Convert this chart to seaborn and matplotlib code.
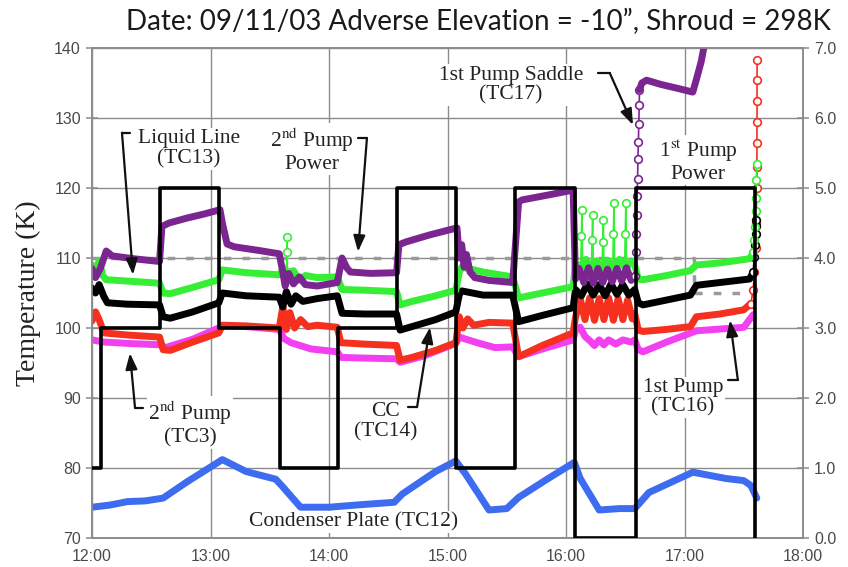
import matplotlib
matplotlib.use('Agg')
import matplotlib.pyplot as plt
import seaborn as sns

# time in decimal hours, temperatures in K
hours = [12, 13, 14, 15, 16, 17, 18]
hour_labels = ['12:00', '13:00', '14:00', '15:00', '16:00', '17:00', '18:00']
temp_ticks = [70, 80, 90, 100, 110, 120, 130, 140]
power_ticks = [0, 1, 2, 3, 4, 5, 6, 7]

# pump power (right axis), value holds from each time to the next
power_t = [12.00, 12.08, 12.575, 13.07, 13.587, 14.076, 14.574, 15.072, 15.57, 16.076, 16.59, 17.595]
power_w = [1, 3, 5, 3, 1, 3, 5, 1, 5, 0, 5, 0]

# set point (grey dashed)
setp_t = [12.00, 17.08, 17.08, 17.60]
setp_T = [110, 110, 105, 105]

# TC17 1st pump saddle (purple)
tc17_t = [12.00, 12.03, 12.07, 12.12, 12.17, 12.35, 12.57, 12.59, 12.65, 12.80, 12.95, 13.08, 13.10, 13.14,
          13.20, 13.40, 13.58, 13.61, 13.63, 13.66, 13.70, 13.75, 13.80, 13.90, 14.07, 14.11, 14.15, 14.18,
          14.35, 14.57, 14.59, 14.65, 14.85, 15.08, 15.10, 15.12, 15.14, 15.16, 15.19, 15.23, 15.35, 15.55,
          15.60, 15.63, 15.85, 16.06, 16.08, 16.11, 16.15, 16.19, 16.23, 16.27, 16.31, 16.35, 16.39, 16.43,
          16.47, 16.51, 16.55, 16.58]
tc17_T = [108.5, 107.2, 108.5, 111.0, 110.3, 109.9, 109.5, 114.5, 115.0, 115.7, 116.3, 116.9, 115.0, 112.0,
          111.6, 111.1, 110.6, 108.0, 106.0, 107.8, 106.3, 107.3, 106.2, 106.0, 106.5, 110.0, 108.6, 108.0,
          107.8, 107.9, 111.9, 112.3, 113.3, 114.3, 110.0, 111.9, 108.7, 110.5, 108.0, 107.2, 106.8, 106.5,
          118.0, 118.3, 119.0, 119.7, 107.0, 108.5, 106.5, 108.6, 106.4, 108.5, 106.5, 108.4, 106.6, 108.5,
          106.7, 108.6, 106.8, 107.5]
tc17_rise_t = [16.580, 16.588, 16.592, 16.596, 16.600, 16.604, 16.607, 16.611, 16.614, 16.618, 16.620]
tc17_rise_T = [107.5, 110.8, 113.4, 116.2, 118.9, 121.3, 124.2, 126.6, 129.1, 131.8, 134.0]
tc17_hi_t = [16.62, 16.64, 16.68, 16.80, 16.95, 17.07, 17.10, 17.14, 17.17]
tc17_hi_T = [134.0, 135.0, 135.4, 134.8, 134.2, 133.7, 135.5, 138.0, 140.6]

# TC13 liquid line (green)
tc13_t = [12.00, 12.03, 12.06, 12.09, 12.12, 12.30, 12.57, 12.60, 12.66, 12.85, 13.07, 13.10, 13.30, 13.58,
          13.62, 13.66, 13.70, 13.75, 13.80, 13.90, 14.07, 14.11, 14.30, 14.57, 14.60, 14.70, 14.90, 15.07,
          15.10, 15.12, 15.30, 15.55, 15.60, 15.80, 16.06, 16.08, 16.13, 16.17, 16.21, 16.26, 16.30, 16.35,
          16.40, 16.45, 16.50, 16.55, 16.58, 16.61, 16.65, 16.85, 17.05, 17.10, 17.30, 17.55, 17.58]
tc13_T = [109.0, 108.0, 109.6, 107.5, 106.9, 106.7, 106.4, 105.0, 104.9, 105.8, 106.9, 108.3, 107.9, 107.6,
          108.5, 107.0, 108.2, 106.8, 107.5, 107.2, 107.3, 105.5, 105.4, 105.2, 103.3, 103.8, 104.6, 105.4,
          108.0, 108.7, 108.0, 107.3, 104.3, 105.0, 105.9, 109.0, 108.3, 109.8, 108.4, 109.6, 108.5, 109.7,
          108.6, 109.8, 108.5, 109.6, 109.0, 107.0, 106.9, 107.5, 108.2, 109.0, 109.3, 109.9, 110.8]
# short green spikes, one group per spike
tc13_spk_id = [0, 0, 0, 0, 1, 1, 1, 1, 2, 2, 2, 2, 3, 3, 3, 3, 4, 4, 4, 4, 5, 5, 5, 5]
tc13_spk_t = [13.640, 13.645, 13.645, 13.650,
              16.125, 16.130, 16.135, 16.140,
              16.215, 16.220, 16.225, 16.230,
              16.305, 16.310, 16.315, 16.320,
              16.395, 16.400, 16.405, 16.410,
              16.495, 16.500, 16.505, 16.510]
tc13_spk_T = [108.0, 110.8, 113.0, 108.0,
              109.0, 113.1, 116.9, 109.0,
              109.0, 112.6, 116.1, 109.0,
              109.0, 112.3, 115.4, 109.0,
              109.0, 113.5, 117.8, 109.0,
              109.0, 113.4, 117.8, 109.0]
tc13_end_t = [17.580, 17.588, 17.594, 17.600, 17.603, 17.606, 17.610]
tc13_end_T = [110.8, 112.6, 114.4, 116.7, 118.6, 121.1, 123.5]

# TC14 CC (black)
tc14_t = [12.00, 12.03, 12.06, 12.10, 12.13, 12.30, 12.57, 12.60, 12.66, 12.85, 13.07, 13.10, 13.30, 13.58,
          13.61, 13.64, 13.68, 13.72, 13.78, 13.90, 14.07, 14.11, 14.30, 14.57, 14.60, 14.70, 14.90, 15.07,
          15.10, 15.12, 15.30, 15.55, 15.60, 15.80, 16.06, 16.08, 16.13, 16.18, 16.23, 16.28, 16.33, 16.38,
          16.43, 16.48, 16.53, 16.58, 16.61, 16.65, 16.85, 17.05, 17.10, 17.30, 17.55, 17.58]
tc14_T = [105.7, 105.0, 106.2, 104.5, 103.6, 103.4, 103.3, 101.6, 101.4, 102.3, 103.6, 105.0, 104.6, 104.4,
          103.0, 105.2, 103.4, 104.6, 103.8, 104.2, 104.6, 102.1, 102.0, 102.0, 99.7, 100.2, 101.2, 102.3,
          104.8, 105.3, 104.7, 104.7, 100.9, 101.8, 102.9, 105.5, 104.6, 106.3, 104.7, 106.2, 104.6, 106.3,
          104.8, 106.2, 104.7, 105.5, 103.6, 103.3, 104.0, 104.7, 106.1, 106.5, 107.0, 108.0]
tc14_end_t = [17.580, 17.588, 17.594, 17.600, 17.603, 17.606]
tc14_end_T = [108.0, 110.1, 111.8, 113.4, 114.6, 115.5]

# TC16 1st pump (red)
tc16_t = [12.00, 12.03, 12.06, 12.10, 12.30, 12.57, 12.60, 12.66, 12.85, 13.07, 13.10, 13.30, 13.58, 13.61,
          13.64, 13.67, 13.71, 13.76, 13.82, 13.90, 14.07, 14.10, 14.30, 14.57, 14.60, 14.70, 14.90, 15.07,
          15.10, 15.13, 15.17, 15.22, 15.35, 15.55, 15.60, 15.80, 16.06, 16.08, 16.12, 16.16, 16.20, 16.24,
          16.28, 16.32, 16.36, 16.40, 16.44, 16.48, 16.52, 16.56, 16.58, 16.61, 16.65, 16.85, 17.05, 17.10,
          17.30, 17.50, 17.56]
tc16_T = [101.0, 102.3, 101.2, 99.3, 99.0, 98.7, 96.9, 96.8, 98.0, 99.3, 100.4, 100.3, 100.0, 103.0,
          99.8, 102.2, 100.0, 101.2, 100.2, 100.4, 100.1, 97.9, 97.7, 97.5, 95.4, 95.8, 96.8, 97.9,
          101.6, 100.0, 101.3, 100.4, 100.8, 100.7, 95.9, 97.5, 99.3, 101.5, 104.2, 101.2, 104.3, 101.1,
          104.2, 101.2, 104.3, 101.1, 104.2, 101.2, 104.0, 101.3, 102.0, 99.7, 99.5, 99.8, 100.2, 101.6,
          102.0, 102.6, 103.5]
tc16_end_t = [17.560, 17.580, 17.590, 17.600, 17.605, 17.610, 17.611, 17.611, 17.612, 17.612, 17.612, 17.613]
tc16_end_T = [103.5, 105.5, 108.0, 111.5, 115.0, 120.0, 123.0, 126.5, 129.5, 132.5, 135.5, 138.3]

# TC3 2nd pump (magenta)
tc3_t = [12.00, 12.10, 12.30, 12.57, 12.62, 12.85, 13.07, 13.10, 13.30, 13.58, 13.62, 13.68, 13.85, 14.07,
         14.10, 14.30, 14.57, 14.60, 14.80, 15.07, 15.10, 15.25, 15.40, 15.55, 15.60, 15.80, 16.06, 16.08,
         16.12, 16.16, 16.20, 16.24, 16.28, 16.32, 16.36, 16.42, 16.48, 16.55, 16.58, 16.61, 16.65, 16.85,
         17.07, 17.10, 17.50, 17.58]
tc3_T = [98.3, 98.0, 97.8, 97.6, 97.2, 98.4, 100.0, 100.3, 100.2, 99.8, 98.5, 97.9, 97.0, 96.6,
         95.8, 95.7, 95.6, 95.1, 96.0, 97.8, 98.7, 97.9, 97.2, 97.3, 95.9, 97.0, 98.3, 99.7,
         100.1, 98.8, 98.2, 97.5, 98.3, 97.6, 98.3, 97.7, 98.3, 98.0, 98.3, 96.9, 96.6, 98.0,
         99.4, 99.6, 100.1, 101.9]

# TC12 condenser plate (blue)
tc12_t = [12.00, 12.15, 12.30, 12.45, 12.60, 12.80, 13.10, 13.30, 13.55, 13.60, 13.76, 14.00, 14.30, 14.55,
          14.62, 14.90, 15.07, 15.15, 15.35, 15.50, 15.60, 15.85, 16.07, 16.12, 16.28, 16.45, 16.58, 16.70,
          17.07, 17.35, 17.50, 17.56, 17.61]
tc12_T = [74.4, 74.7, 75.2, 75.3, 75.7, 78.0, 81.2, 79.5, 78.4, 77.5, 74.4, 74.4, 74.8, 75.1,
          76.3, 79.5, 81.0, 79.2, 74.0, 74.2, 75.8, 78.5, 80.8, 78.5, 74.0, 74.2, 74.2, 76.5,
          79.4, 78.5, 78.2, 77.5, 75.7]

PURPLE = '#7a2590'
GREEN = '#35ee35'
RED = '#f5301f'
MAGENTA = '#f23ff0'
BLUE = '#3e6cf0'
GRID = '#8c8c8c'

sns.set_theme(style='white')
plt.rcParams['font.family'] = ['Liberation Sans', 'DejaVu Sans']
plt.rcParams['mathtext.fontset'] = 'stix'

fig = plt.figure(figsize=(8.48, 5.67), dpi=100)
ax = fig.add_axes([92/848, 29/567, 711/848, 490/567])
ax2 = ax.twinx()


def band(t, T, color, z):
    sns.lineplot(x=t, y=T, ax=ax, color=color, lw=5, sort=False, estimator=None,
                 zorder=z, solid_joinstyle='round', solid_capstyle='round')


def circles(t, T, color, z, units=None):
    sns.lineplot(x=t, y=T, ax=ax, color=color, lw=1.2, sort=False, estimator=None, units=units,
                 marker='o', markersize=5.5, markerfacecolor='white',
                 markeredgecolor=color, markeredgewidth=1.2, zorder=z)


sns.lineplot(x=setp_t, y=setp_T, ax=ax, color='#9a9a9a', lw=2.5, sort=False, estimator=None,
             dashes=False, linestyle=(0, (2.2, 3.2)), zorder=2)
band(tc12_t, tc12_T, BLUE, 3)
band(tc3_t, tc3_T, MAGENTA, 4)
band(tc16_t, tc16_T, RED, 5)
circles(tc16_end_t, tc16_end_T, RED, 5)
band(tc14_t, tc14_T, 'black', 6)
circles(tc14_end_t, tc14_end_T, 'black', 6)
circles(tc13_spk_t, tc13_spk_T, GREEN, 6.5, units=tc13_spk_id)
band(tc13_t, tc13_T, GREEN, 7)
circles(tc13_end_t, tc13_end_T, GREEN, 7)
band(tc17_t, tc17_T, PURPLE, 8)
circles(tc17_rise_t, tc17_rise_T, PURPLE, 8)
band(tc17_hi_t, tc17_hi_T, PURPLE, 8)

sns.lineplot(x=power_t, y=power_w, ax=ax2, color='black', lw=2.6, sort=False, estimator=None,
             drawstyle='steps-post', zorder=9)

ax.set_xlim(12, 18)
ax.set_ylim(70, 140)
ax2.set_ylim(0, 7)
ax.set_xticks(hours)
ax.set_xticklabels(hour_labels)
ax.set_yticks(temp_ticks)
ax.set_yticklabels([str(v) for v in temp_ticks])
ax2.set_yticks(power_ticks)
ax2.set_yticklabels(['%.1f' % v for v in power_ticks])
ax.set_xlabel('')
ax.set_ylabel('')
ax2.set_ylabel('')

ax.grid(True, color=GRID, lw=1.0)
ax.set_axisbelow(True)
ax2.grid(False)
for a in (ax, ax2):
    for s in a.spines.values():
        s.set_color(GRID)
        s.set_linewidth(1.2)
    a.tick_params(direction='inout', length=8, width=1.1, color=GRID,
                  labelsize=11.5, labelcolor='#4a4a4a')
ax.tick_params(axis='x', pad=4)
ax.tick_params(axis='y', pad=4)
ax2.tick_params(axis='y', pad=4)

# labels and arrows
serif = ['Liberation Serif', 'DejaVu Serif']
box = dict(facecolor='white', edgecolor='none', pad=1.0)
labels = [
    (12.819, 125.6, 'Liquid Line\n(TC13)'),
    (13.857, 125.4, '2$^{\\mathrm{nd}}$ Pump\nPower'),
    (15.536, 134.7, '1st Pump Saddle\n(TC17)'),
    (17.114, 123.9, '1$^{\\mathrm{st}}$ Pump\nPower'),
    (12.827, 86.4, '2$^{\\mathrm{nd}}$ Pump\n(TC3)'),
    (14.481, 86.6, 'CC\n(TC14)'),
    (16.987, 90.1, '1st Pump\n(TC16)'),
    (14.211, 72.3, 'Condenser Plate (TC12)'),
]
for x, y, s in labels:
    ax2.text(x, y, s, transform=ax.transData, ha='center', va='center', fontsize=15.5,
             family=serif, color='#222222', linespacing=1.05, bbox=box, zorder=10)

arrows = [
    ((12.320, 127.9), (12.253, 127.9), (12.346, 107.6)),
    ((14.245, 127.1), (14.320, 127.1), (14.245, 110.9)),
    ((16.270, 136.4), (16.370, 136.4), (16.565, 129.0)),
    ((12.430, 88.6), (12.363, 88.6), (12.320, 96.4)),
    ((14.667, 88.7), (14.743, 88.7), (14.852, 100.1)),
    ((17.367, 92.6), (17.450, 92.6), (17.384, 101.1)),
]
for p0, p1, tip in arrows:
    ax2.plot([p0[0], p1[0]], [p0[1], p1[1]], transform=ax.transData, color='#111111',
             lw=1.6, zorder=11, scalex=False, scaley=False)
    ax2.annotate('', xy=tip, xytext=p1, xycoords=ax.transData, textcoords=ax.transData,
                 arrowprops=dict(arrowstyle='-|>,head_length=0.6,head_width=0.22', color='#111111',
                                 lw=1.6, mutation_scale=16, shrinkA=0, shrinkB=0), zorder=11)
ax2.set_ylim(0, 7)

fig.text(478/848, 1 - 22/567, 'Date: 09/11/03 Adverse Elevation = -10\u201d, Shroud = 298K',
         ha='center', va='center', fontsize=20, family=['Lato', 'DejaVu Sans'], color='#1a1a1a')
fig.text(28/848, 1 - 293/567, 'Temperature (K)', rotation=90, ha='center', va='center',
         fontsize=20, family=serif, color='#222222')

fig.savefig('out.png', dpi=100)
